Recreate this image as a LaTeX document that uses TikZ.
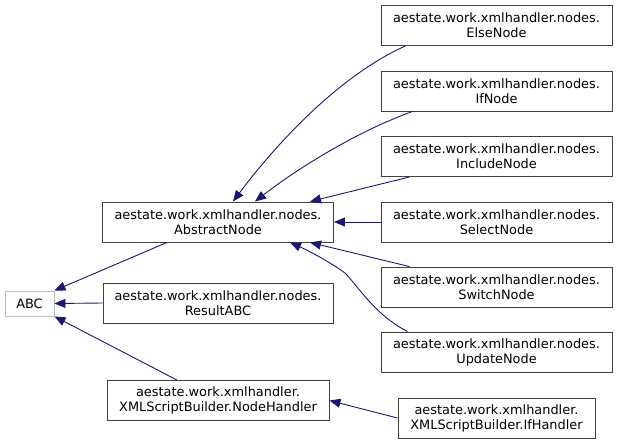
\documentclass[tikz,border=0pt]{standalone}
\usepackage{fontspec}
\setmainfont{DejaVu Sans}
\usepackage{tikz}
\usetikzlibrary{arrows.meta}
\definecolor{edgeblue}{HTML}{191970}
\definecolor{boxgray}{HTML}{404040}
\definecolor{extgray}{HTML}{BFBFBF}

\begin{document}
\begin{tikzpicture}[x=1pt, y=-1pt,
  cls/.style={draw=boxgray, line width=0.9pt, fill=white, align=center, inner sep=0pt, minimum height=40pt, font=\fontsize{12.9}{15}\selectfont},
  extcls/.style={draw=extgray, line width=0.9pt, fill=white, inner sep=0pt, minimum width=49pt, minimum height=25pt, font=\fontsize{12.9}{15}\selectfont},
  inherit/.style={draw=edgeblue, line width=0.9pt, -{Triangle[length=11pt, width=9pt]}}]
\useasboundingbox (0,0) rectangle (617,444);
\node (abc) at (29.5, 303.5) [extcls]{ABC};
\node (abs) at (218, 222) [cls, minimum width=231pt]{aestate.work.xmlhandler.nodes.\\AbstractNode};
\node (res) at (218, 303) [cls, minimum width=230pt]{aestate.work.xmlhandler.nodes.\\ResultABC};
\node (nh) at (218, 400.5) [cls, minimum width=222pt]{aestate.work.xmlhandler.\\XMLScriptBuilder.NodeHandler};
\node (else) at (496.5, 25.5) [cls, minimum width=231pt]{aestate.work.xmlhandler.nodes.\\ElseNode};
\node (if) at (496.5, 91) [cls, minimum width=231pt]{aestate.work.xmlhandler.nodes.\\IfNode};
\node (incl) at (496.5, 156.5) [cls, minimum width=231pt]{aestate.work.xmlhandler.nodes.\\IncludeNode};
\node (sel) at (496.5, 222) [cls, minimum width=231pt]{aestate.work.xmlhandler.nodes.\\SelectNode};
\node (sw) at (496.5, 287) [cls, minimum width=231pt]{aestate.work.xmlhandler.nodes.\\SwitchNode};
\node (upd) at (496.5, 352) [cls, minimum width=231pt]{aestate.work.xmlhandler.nodes.\\UpdateNode};
\node (ifh) at (496.5, 418) [cls, minimum width=197pt]{aestate.work.xmlhandler.\\XMLScriptBuilder.IfHandler};
\draw[inherit] ([xshift=-91pt]else.south) .. controls +(-65,29) and +(45,-60) .. ([xshift=15pt]abs.north);
\draw[inherit] ([xshift=-84pt]if.south) .. controls +(-53,19) and +(45,-35) .. ([xshift=37pt]abs.north);
\draw[inherit] ([xshift=-87pt]incl.south) -- ([xshift=92pt]abs.north);
\draw[inherit] (sel.west) -- (abs.east);
\draw[inherit] ([xshift=-87pt]sw.north) -- ([xshift=92pt]abs.south);
\draw[inherit] ([xshift=-89pt]upd.north) .. controls +(-33,-17) and +(13,13) .. (345,273) .. controls +(-15,-11) and +(18,8) .. ([xshift=72pt]abs.south);
\draw[inherit] ([xshift=-51pt]abs.south) -- (abc.north east);
\draw[inherit] (res.west) -- (abc.east);
\draw[inherit] ([xshift=-41pt]nh.north) -- (abc.south east);
\draw[inherit] (ifh.west) -- (nh.east);
\end{tikzpicture}
\end{document}
